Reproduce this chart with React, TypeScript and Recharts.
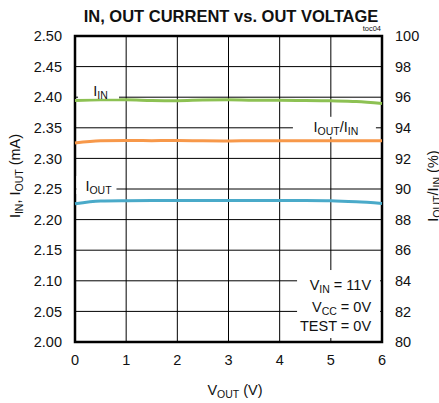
import { ComposedChart, Line, XAxis, YAxis, CartesianGrid, ReferenceArea, ReferenceDot } from 'recharts'

const VOUT = [0, 0.5, 1, 1.5, 2, 2.5, 3, 3.5, 4, 4.5, 5, 5.5, 6]
const IIN = [2.3946, 2.3958, 2.3958, 2.3946, 2.3942, 2.3954, 2.3958, 2.3951, 2.3951, 2.3946, 2.3941, 2.393, 2.3897]
const IOUT = [2.2258, 2.2305, 2.231, 2.2312, 2.2313, 2.2313, 2.2313, 2.2313, 2.2312, 2.2311, 2.2307, 2.229, 2.2264]
const RATIO = [93.0, 93.15, 93.17, 93.16, 93.17, 93.15, 93.14, 93.16, 93.15, 93.16, 93.15, 93.15, 93.16]

const X_TICKS = [0, 1, 2, 3, 4, 5, 6]
const LEFT_TICKS = [2.0, 2.05, 2.1, 2.15, 2.2, 2.25, 2.3, 2.35, 2.4, 2.45, 2.5]
const RIGHT_TICKS = [80, 82, 84, 86, 88, 90, 92, 94, 96, 98, 100]

const data = VOUT.map((v, i) => ({ vout: v, iin: IIN[i], iout: IOUT[i], ratio: RATIO[i] }))

const FONT = '"Liberation Sans", Arial, sans-serif'
const FS = 14.5
const SUB = 10.5

// white box (w wide, from `up` px above to `down` px below the point) with centred text
const boxLabel = (w: number, up: number, down: number, tx: number, ty: number, content: any) => (props: any) => (
  <g>
    <rect x={props.cx - w / 2} y={props.cy - up} width={w} height={up + down} fill="#fff" />
    <text x={props.cx + tx} y={props.cy + ty} textAnchor="middle" fontFamily={FONT} fontSize={FS} fill="#111">
      {content}
    </text>
  </g>
)

const testBox = (props: any) => {
  const x = props.cx
  const y = props.cy
  return (
    <g>
      <rect x={x} y={y} width={83} height={68} fill="#fff" />
      <text x={x + 74} textAnchor="end" fontFamily={FONT} fontSize={FS} fill="#111">
        <tspan x={x + 74} y={y + 20}>V</tspan>
        <tspan fontSize={SUB} dy={3}>IN</tspan>
        <tspan dy={-3}> = 11V</tspan>
      </text>
      <text x={x + 74} textAnchor="end" fontFamily={FONT} fontSize={FS} fill="#111">
        <tspan x={x + 74} y={y + 42}>V</tspan>
        <tspan fontSize={SUB} dy={3}>CC</tspan>
        <tspan dy={-3}> = 0V</tspan>
      </text>
      <text x={x + 74} y={y + 61} textAnchor="end" fontFamily={FONT} fontSize={FS} fill="#111">
        TEST = 0V
      </text>
    </g>
  )
}

export default function App() {
  const tick = { fill: '#111', fontSize: FS, fontFamily: FONT }
  return (
    <div style={{ position: 'absolute', left: 0, top: 0, width: 439, height: 403, background: '#fff' }}>
      <ComposedChart width={439} height={403} data={data} margin={{ top: 36, right: 0, bottom: 0, left: 0 }}>
        <CartesianGrid yAxisId="l" stroke="#000" strokeWidth={1} />
        <XAxis
          dataKey="vout"
          type="number"
          domain={[0, 6]}
          ticks={X_TICKS}
          height={61}
          tickLine={false}
          axisLine={false}
          tickSize={6}
          tickMargin={7}
          tick={tick}
        />
        <YAxis
          yAxisId="l"
          domain={[2.0, 2.5]}
          ticks={LEFT_TICKS}
          width={75}
          tickLine={false}
          axisLine={false}
          tickSize={6}
          tickMargin={7}
          tick={tick}
          tickFormatter={(v: number) => v.toFixed(2)}
        />
        <YAxis
          yAxisId="r"
          orientation="right"
          domain={[80, 100]}
          ticks={RIGHT_TICKS}
          width={57}
          tickLine={false}
          axisLine={false}
          tickSize={6}
          tickMargin={7}
          tick={tick}
        />
        <ReferenceArea yAxisId="l" x1={0} x2={6} y1={2.0} y2={2.5} fill="none" stroke="#000" strokeWidth={2.5} />
        <Line yAxisId="l" type="monotone" dataKey="iin" stroke="#8dc153" strokeWidth={3} dot={false} isAnimationActive={false} />
        <Line yAxisId="r" type="monotone" dataKey="ratio" stroke="#f7984a" strokeWidth={3} dot={false} isAnimationActive={false} />
        <Line yAxisId="l" type="monotone" dataKey="iout" stroke="#4aaac9" strokeWidth={3} dot={false} isAnimationActive={false} />
        <ReferenceDot
          yAxisId="l"
          x={0.46}
          y={2.4}
          r={0}
          shape={boxLabel(41, 14, 1.5, 2, -1, <>I<tspan fontSize={SUB} dy={3}>IN</tspan></>)}
        />
        <ReferenceDot
          yAxisId="r"
          x={5.07}
          y={94}
          r={0}
          shape={boxLabel(83, 11, 9, 1.5, 4, <>I<tspan fontSize={SUB} dy={3}>OUT</tspan><tspan dy={-3}>/I</tspan><tspan fontSize={SUB} dy={3}>IN</tspan></>)}
        />
        <ReferenceDot
          yAxisId="l"
          x={0.42}
          y={2.25}
          r={0}
          shape={boxLabel(40, 13, 5, 2, 2, <>I<tspan fontSize={SUB} dy={3}>OUT</tspan></>)}
        />
        <ReferenceDot yAxisId="l" x={4.34} y={2.1176} r={0} shape={testBox} />
      </ComposedChart>
      <svg width={439} height={403} style={{ position: 'absolute', left: 0, top: 0, pointerEvents: 'none' }}>
        <text x={231} y={22} textAnchor="middle" fontFamily={FONT} fontWeight="bold" fontSize={16.5} fill="#111">
          IN, OUT CURRENT vs. OUT VOLTAGE
        </text>
        <text x={381} y={31} textAnchor="end" fontFamily={FONT} fontSize={7.5} fill="#111">
          toc04
        </text>
        <text transform="translate(19.5,176) rotate(-90)" textAnchor="middle" fontFamily={FONT} fontSize={FS} fill="#111">
          I<tspan fontSize={SUB} dy={3}>IN</tspan>
          <tspan dy={-3}>, I</tspan>
          <tspan fontSize={SUB} dy={3}>OUT</tspan>
          <tspan dy={-3}> (mA)</tspan>
        </text>
        <text transform="translate(437.5,186) rotate(-90)" textAnchor="middle" fontFamily={FONT} fontSize={FS} fill="#111">
          I<tspan fontSize={SUB} dy={3}>OUT</tspan>
          <tspan dy={-3}>/I</tspan>
          <tspan fontSize={SUB} dy={3}>IN</tspan>
          <tspan dy={-3}> (%)</tspan>
        </text>
        <text x={235} y={395} textAnchor="middle" fontFamily={FONT} fontSize={FS} fill="#111">
          V<tspan fontSize={SUB} dy={3}>OUT</tspan>
          <tspan dy={-3}> (V)</tspan>
        </text>
      </svg>
    </div>
  )
}
